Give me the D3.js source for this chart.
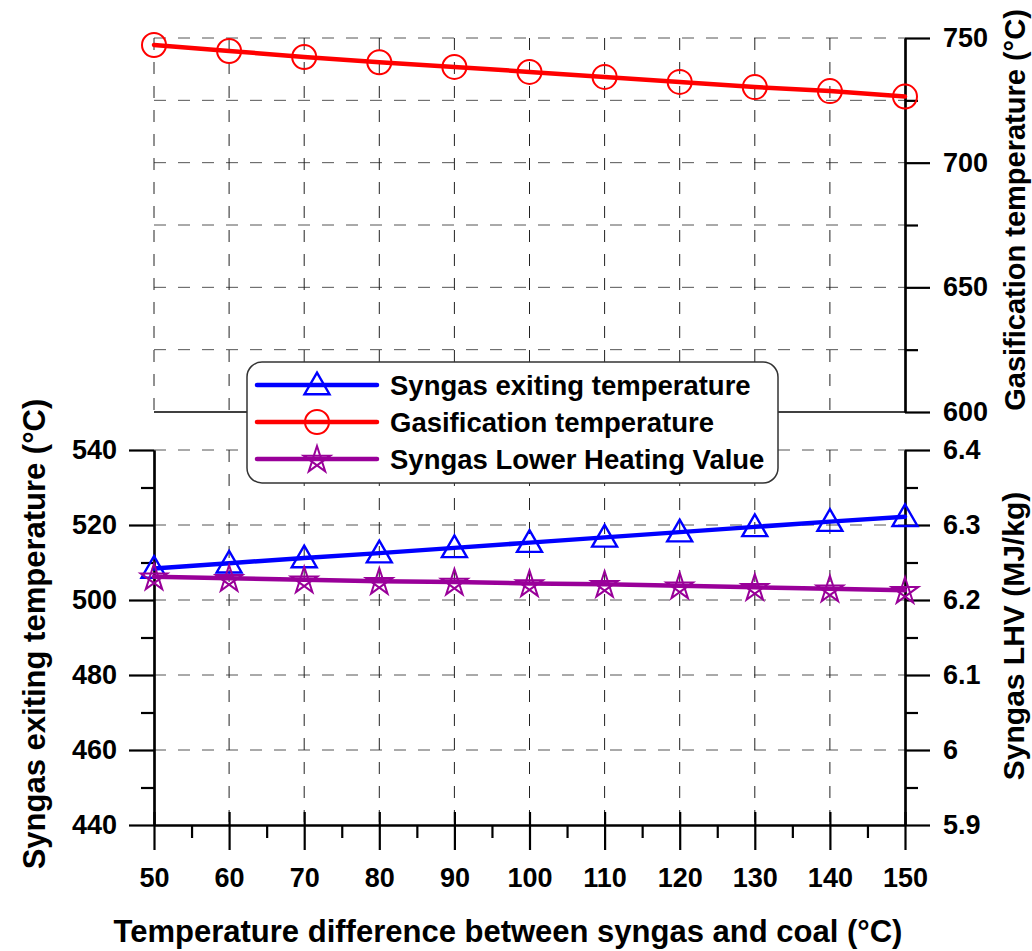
<!DOCTYPE html>
<html>
<head>
<meta charset="utf-8">
<script src="https://cdn.jsdelivr.net/npm/d3@7"></script>
<style>
  body { margin: 0; background: #fff; }
  svg text { font-family: "Liberation Sans", Arial, sans-serif; font-weight: bold; }
</style>
</head>
<body>
<div id="chart"></div>
<script>
// Data
const tempDiff = [50, 60, 70, 80, 90, 100, 110, 120, 130, 140, 150];
const syngasExitTemp = [508.4, 509.8, 511.2, 512.5, 513.9, 515.3, 516.7, 518.1, 519.5, 520.9, 522.2];
const gasifTemp = [747.2, 744.8, 742.4, 740.3, 738.4, 736.4, 734.4, 732.4, 730.3, 728.7, 726.5];
const syngasLHV = [6.231, 6.229, 6.227, 6.225, 6.224, 6.222, 6.221, 6.219, 6.217, 6.215, 6.213];

const xTicks = [50, 60, 70, 80, 90, 100, 110, 120, 130, 140, 150];
const gasifTicks = [600, 650, 700, 750];
const exitTicks = [440, 460, 480, 500, 520, 540];
const lhvTicks = [5.9, 6.0, 6.1, 6.2, 6.3, 6.4];

const legendNames = ["Syngas exiting temperature", "Gasification temperature", "Syngas Lower Heating Value"];

const width = 1032, height = 951;
const left = 154, right = 905;
const topY0 = 38, topY1 = 412;   // top panel
const botY0 = 450, botY1 = 825;  // bottom panel

const x = d3.scaleLinear().domain([50, 150]).range([left, right]);
const yGas = d3.scaleLinear().domain([600, 750]).range([topY1, topY0]);
const yExit = d3.scaleLinear().domain([440, 540]).range([botY1, botY0]);
const yLhv = d3.scaleLinear().domain([5.9, 6.4]).range([botY1, botY0]);

const svg = d3.select("#chart").append("svg")
    .attr("width", width)
    .attr("height", height);

const dash = "12,12";
const gridColor = "#555";

// ---- grid, top panel
const gTop = svg.append("g");
gTop.selectAll("line.h")
  .data(d3.range(625, 751, 25))
  .join("line")
    .attr("x1", left).attr("x2", right)
    .attr("y1", d => yGas(d)).attr("y2", d => yGas(d))
    .attr("stroke", gridColor).attr("stroke-dasharray", dash);
gTop.selectAll("line.v")
  .data(xTicks.slice(0, -1))
  .join("line")
    .attr("x1", d => x(d)).attr("x2", d => x(d))
    .attr("y1", topY0).attr("y2", topY1)
    .attr("stroke", "#222").attr("stroke-dasharray", dash);
gTop.append("line")
    .attr("x1", left).attr("x2", right)
    .attr("y1", topY1).attr("y2", topY1)
    .attr("stroke", "#000").attr("stroke-width", 1.5);

// ---- grid, bottom panel
const gBot = svg.append("g");
gBot.selectAll("line.h")
  .data(exitTicks.slice(1))
  .join("line")
    .attr("x1", left).attr("x2", right)
    .attr("y1", d => yExit(d)).attr("y2", d => yExit(d))
    .attr("stroke", gridColor).attr("stroke-dasharray", dash);
gBot.selectAll("line.v")
  .data(xTicks.slice(1, -1))
  .join("line")
    .attr("x1", d => x(d)).attr("x2", d => x(d))
    .attr("y1", botY0).attr("y2", botY1)
    .attr("stroke", "#222").attr("stroke-dasharray", dash);

// ---- axes
function styleAxis(g) {
  g.select(".domain").attr("stroke-width", 2.2);
  g.selectAll(".tick line").attr("stroke-width", 2.2);
  g.selectAll(".tick text").attr("font-size", 27).attr("fill", "#000");
}

// top right axis
svg.append("g")
    .attr("transform", `translate(${right},0)`)
    .call(d3.axisRight(yGas).tickValues(d3.range(625, 750, 50)).tickSize(13).tickFormat("").tickSizeOuter(0))
    .call(styleAxis);
svg.append("g")
    .attr("transform", `translate(${right},0)`)
    .call(d3.axisRight(yGas).tickValues(gasifTicks).tickSize(25).tickPadding(13).tickSizeOuter(0))
    .call(styleAxis);

// bottom left axis
svg.append("g")
    .attr("transform", `translate(${left},0)`)
    .call(d3.axisLeft(yExit).tickValues(d3.range(450, 540, 20)).tickSize(13).tickFormat("").tickSizeOuter(0))
    .call(styleAxis);
svg.append("g")
    .attr("transform", `translate(${left},0)`)
    .call(d3.axisLeft(yExit).tickValues(exitTicks).tickSize(25).tickPadding(12).tickSizeOuter(0))
    .call(styleAxis);

// bottom right axis
svg.append("g")
    .attr("transform", `translate(${right},0)`)
    .call(d3.axisRight(yLhv).tickValues(d3.range(5.95, 6.4, 0.1)).tickSize(13).tickFormat("").tickSizeOuter(0))
    .call(styleAxis);
svg.append("g")
    .attr("transform", `translate(${right},0)`)
    .call(d3.axisRight(yLhv).tickValues(lhvTicks).tickSize(25).tickPadding(13).tickSizeOuter(0)
      .tickFormat(d => d3.format("~g")(d)))
    .call(styleAxis);

// x axis
svg.append("g")
    .attr("transform", `translate(0,${botY1})`)
    .call(d3.axisBottom(x).tickValues(d3.range(55, 150, 10)).tickSize(13).tickFormat("").tickSizeOuter(0))
    .call(styleAxis);
const xAxis = svg.append("g")
    .attr("transform", `translate(0,${botY1})`)
    .call(d3.axisBottom(x).tickValues(xTicks).tickSize(25).tickPadding(18).tickSizeOuter(0))
    .call(styleAxis);
xAxis.selectAll(".tick line").attr("y1", -13);

// ---- axis titles
svg.append("text")
    .attr("transform", `translate(45,634) rotate(-90)`)
    .attr("text-anchor", "middle")
    .attr("font-size", 31)
    .text("Syngas exiting temperature (°C)");
svg.append("text")
    .attr("transform", `translate(1025,210) rotate(-90)`)
    .attr("text-anchor", "middle")
    .attr("font-size", 29)
    .text("Gasification temperature (°C)");
svg.append("text")
    .attr("transform", `translate(1024,636) rotate(-90)`)
    .attr("text-anchor", "middle")
    .attr("font-size", 30)
    .text("Syngas LHV (MJ/kg)");
svg.append("text")
    .attr("x", 508).attr("y", 942)
    .attr("text-anchor", "middle")
    .attr("font-size", 31)
    .text("Temperature difference between syngas and coal (°C)");

// ---- markers
const blue = "#0000ff", red = "#ff0000", purple = "#990099";
const triPath = d3.symbol(d3.symbolTriangle, 270)();
function pentagram(r) {
  const pts = d3.range(5).map(k => {
    const a = (-90 + k * 144) * Math.PI / 180;
    return [r * Math.cos(a), r * Math.sin(a)];
  });
  return "M" + pts.map(p => p.join(",")).join("L") + "Z";
}
const starPath = pentagram(14);

function drawMarker(g, kind, color) {
  if (kind === "circle") {
    g.append("circle").attr("r", 12).attr("fill", "none").attr("stroke", color).attr("stroke-width", 2);
  } else if (kind === "triangle") {
    g.append("path").attr("d", triPath).attr("transform", "translate(0,2)")
      .attr("fill", "none").attr("stroke", color).attr("stroke-width", 2.4);
  } else {
    g.append("path").attr("d", starPath).attr("transform", "translate(0,1)")
      .attr("fill", "none").attr("stroke", color).attr("stroke-width", 2);
  }
}

const series = [
  { values: syngasExitTemp, y: yExit, color: blue, marker: "triangle" },
  { values: gasifTemp, y: yGas, color: red, marker: "circle" },
  { values: syngasLHV, y: yLhv, color: purple, marker: "star" }
];

series.forEach(s => {
  const pts = tempDiff.map((t, i) => [x(t), s.y(s.values[i])]);
  svg.append("path")
      .attr("d", d3.line()(pts))
      .attr("fill", "none")
      .attr("stroke", s.color)
      .attr("stroke-width", 4.5)
      .attr("stroke-linecap", "round");
  pts.forEach(p => {
    const g = svg.append("g").attr("transform", `translate(${p[0]},${p[1]})`);
    drawMarker(g, s.marker, s.color);
  });
});

// ---- legend
const legend = svg.append("g");
legend.append("rect")
    .attr("x", 247).attr("y", 362)
    .attr("width", 531).attr("height", 121)
    .attr("rx", 15).attr("ry", 15)
    .attr("fill", "#fff").attr("stroke", "#333").attr("stroke-width", 1.5);

series.forEach((s, i) => {
  const ly = 385 + i * 37;
  legend.append("line")
      .attr("x1", 257).attr("x2", 377)
      .attr("y1", ly).attr("y2", ly)
      .attr("stroke", s.color).attr("stroke-width", 4.5).attr("stroke-linecap", "round");
  const g = legend.append("g").attr("transform", `translate(317,${ly})`);
  drawMarker(g, s.marker, s.color);
  legend.append("text")
      .attr("x", 390).attr("y", ly)
      .attr("dominant-baseline", "central")
      .attr("font-size", 27.5)
      .text(legendNames[i]);
});
</script>
</body>
</html>
